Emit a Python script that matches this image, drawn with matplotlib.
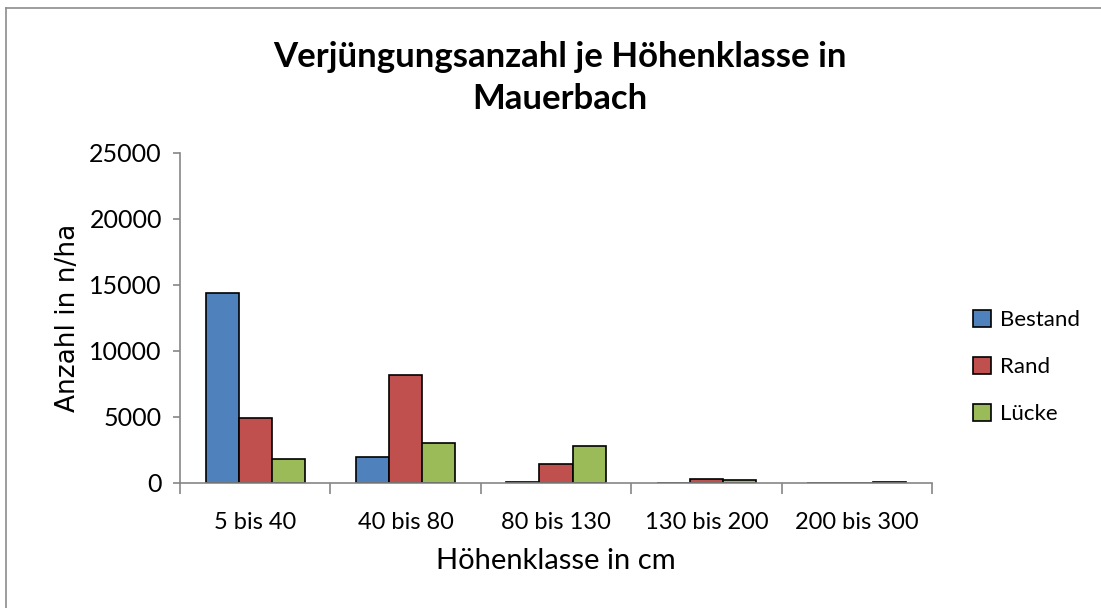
import matplotlib.pyplot as plt
import numpy as np
from matplotlib.lines import Line2D

categories = ["5 bis 40", "40 bis 80", "80 bis 130", "130 bis 200", "200 bis 300"]
series_names = ["Bestand", "Rand", "Lücke"]
bestand = [14400, 2000, 70, 0, 0]
rand = [4900, 8200, 1450, 320, 0]
luecke = [1800, 3000, 2800, 260, 70]
colors = ["#4F81BD", "#C0504D", "#9BBB59"]

plt.rcParams['font.family'] = ['Lato', 'DejaVu Sans']

fig = plt.figure(figsize=(11.01, 6.08), dpi=100)
ax = fig.add_axes([180 / 1101, 1 - 483 / 608, 752 / 1101, 330 / 608])

# outer chart border (only left and top visible in the crop)
bx, by = 5.5 / 1101, 1 - 7.5 / 608
fig.lines.append(Line2D([bx, bx], [0, by], transform=fig.transFigure, color='#8c8c8c', lw=1.2))
fig.lines.append(Line2D([bx, 1], [by, by], transform=fig.transFigure, color='#8c8c8c', lw=1.2))

x = np.arange(len(categories))
width = 0.22
for i, (vals, name) in enumerate(zip([bestand, rand, luecke], series_names)):
    ax.bar(x + (i - 1) * width, vals, width, color=colors[i], edgecolor='black',
           linewidth=1.2, label=name)

ax.set_xlim(-0.5, len(categories) - 0.5)
ax.set_ylim(0, 25000)
ax.set_yticks(np.arange(0, 25001, 5000))
ax.set_xticks(x)
ax.set_xticklabels(categories, fontsize=17)
ax.tick_params(axis='x', length=0, pad=21)
ax.set_xticks(np.arange(-0.5, len(categories), 1), minor=True)
ax.tick_params(axis='x', which='minor', length=8, color='#868686', width=1.2)
ax.tick_params(axis='y', labelsize=18, length=5, color='#868686', width=1.2, pad=8)

for side in ['top', 'right']:
    ax.spines[side].set_visible(False)
for side in ['left', 'bottom']:
    ax.spines[side].set_color('#868686')
    ax.spines[side].set_linewidth(1.2)

ax.set_xlabel("Höhenklasse in cm", fontsize=21, labelpad=11)
ax.set_ylabel("Anzahl in n/ha", fontsize=19, family='DejaVu Sans', labelpad=6)

fig.text(560 / 1101, 1 - 78 / 608, "Verjüngungsanzahl je Höhenklasse in\nMauerbach",
         ha='center', va='center', fontsize=25, fontweight='bold', linespacing=1.35)

ax.legend(loc='center left', bbox_to_anchor=(973 / 1101, 1 - 367 / 608),
          bbox_transform=fig.transFigure, frameon=False, fontsize=16,
          borderaxespad=0, borderpad=0,
          handlelength=0.8, handleheight=0.8, labelspacing=1.2, handletextpad=0.4)

fig.savefig("out.png", dpi=100)
